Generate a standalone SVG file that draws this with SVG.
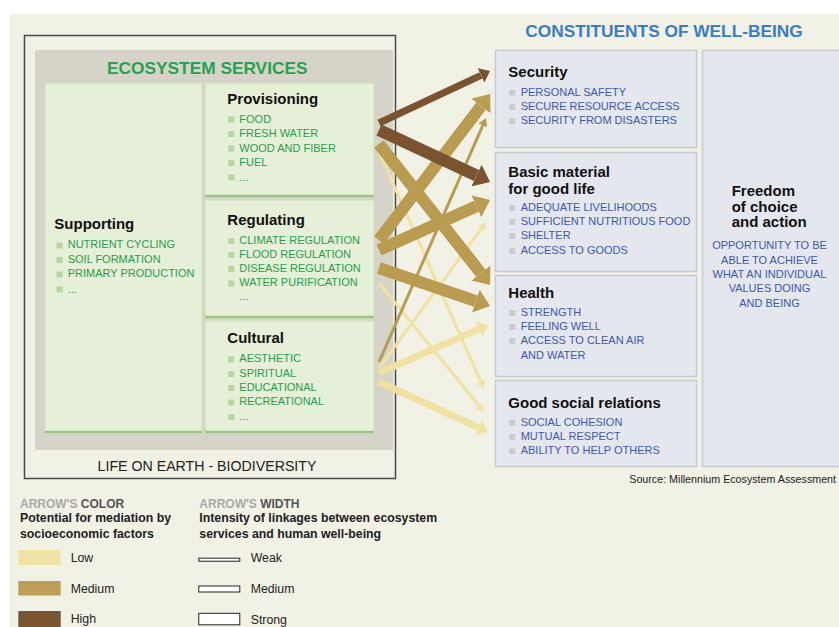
<svg xmlns="http://www.w3.org/2000/svg" width="839" height="627" viewBox="0 0 839 627">
<style>
text{font-family:"Liberation Sans",Arial,sans-serif}
.gbox{fill:#e6efd8;stroke:#cfe0bd;stroke-width:1}
.gbot{stroke:#9fc585;stroke-width:2.5}
.bbox{fill:#e4e7ee;stroke:#c5cad3;stroke-width:1.5}
.h{font-weight:bold;font-size:15px;fill:#111}
.gi{font-size:11px;fill:#2a9d4b}
.bi{font-size:11px;fill:#3f58a8}
.gb{fill:#b9d5a2}
.bb{fill:#c8cbd1}
.lg{font-size:12.3px;fill:#222}
.lgh{font-size:12.3px;font-weight:bold;fill:#222}
.wl{fill:#fff;stroke:#222;stroke-width:1}
</style>
<defs>
<marker id="hBrS" markerUnits="userSpaceOnUse" viewBox="0 -12 15 24" refX="0" refY="0" markerWidth="15" markerHeight="24" orient="auto"><path d="M0,-12 L15,0 L0,12 Z" fill="#7a5331"/></marker>
<marker id="hBrM" markerUnits="userSpaceOnUse" viewBox="0 -8 10 16" refX="0" refY="0" markerWidth="10" markerHeight="16" orient="auto"><path d="M0,-8 L10,0 L0,8 Z" fill="#7a5331"/></marker>
<marker id="hGoS" markerUnits="userSpaceOnUse" viewBox="0 -12 15 24" refX="0" refY="0" markerWidth="15" markerHeight="24" orient="auto"><path d="M0,-12 L15,0 L0,12 Z" fill="#b99b51"/></marker>
<marker id="hGoW" markerUnits="userSpaceOnUse" viewBox="0 -4.5 8 9" refX="0" refY="0" markerWidth="8" markerHeight="9" orient="auto"><path d="M0,-4.5 L8,0 L0,4.5 Z" fill="#b99b51"/></marker>
<marker id="hLoW" markerUnits="userSpaceOnUse" viewBox="0 -4.5 8 9" refX="0" refY="0" markerWidth="8" markerHeight="9" orient="auto"><path d="M0,-4.5 L8,0 L0,4.5 Z" fill="#efe2a2"/></marker>
<marker id="hLoM" markerUnits="userSpaceOnUse" viewBox="0 -8 10 16" refX="0" refY="0" markerWidth="10" markerHeight="16" orient="auto"><path d="M0,-8 L10,0 L0,8 Z" fill="#efe2a2"/></marker>
</defs>
<rect x="0" y="0" width="839" height="627" fill="#ffffff"/>
<rect x="10" y="14" width="829" height="613" fill="#f2f1e6"/>

<g id="life-on-earth">
<rect x="24.5" y="35.5" width="371" height="443" fill="none" stroke="#4a4a4a" stroke-width="1.5"/>
<rect x="35" y="50" width="358" height="400" fill="#d6d4c8"/>
<text x="207" y="470.7" font-size="14.2" fill="#222" text-anchor="middle">LIFE ON EARTH - BIODIVERSITY</text>
<text x="207.3" y="74.3" font-size="17.3" font-weight="bold" fill="#2aa14e" text-anchor="middle">ECOSYSTEM SERVICES</text>
</g>

<g id="supporting">
<rect class="gbox" x="45" y="83" width="157" height="350"/>
<line class="gbot" x1="45" y1="432" x2="202" y2="432"/>
<text class="h" x="54.3" y="229.3">Supporting</text>
<rect class="gb" x="56.5" y="242.5" width="6" height="6"/><text class="gi" x="67.7" y="248.3">NUTRIENT CYCLING</text>
<rect class="gb" x="56.5" y="257" width="6" height="6"/><text class="gi" x="67.7" y="262.7">SOIL FORMATION</text>
<rect class="gb" x="56.5" y="271.5" width="6" height="6"/><text class="gi" x="67.7" y="277.3">PRIMARY PRODUCTION</text>
<rect class="gb" x="56.5" y="286.5" width="6" height="6"/><text class="gi" x="67.7" y="292.7">...</text>
</g>

<g id="provisioning">
<rect class="gbox" x="205" y="83" width="169" height="114"/>
<line class="gbot" x1="205" y1="196" x2="374" y2="196"/>
<text class="h" x="227.3" y="104">Provisioning</text>
<rect class="gb" x="228.3" y="116.5" width="6" height="6"/><text class="gi" x="239.3" y="122.5">FOOD</text>
<rect class="gb" x="228.3" y="131" width="6" height="6"/><text class="gi" x="239.3" y="137">FRESH WATER</text>
<rect class="gb" x="228.3" y="145.5" width="6" height="6"/><text class="gi" x="239.3" y="151.5">WOOD AND FIBER</text>
<rect class="gb" x="228.3" y="160" width="6" height="6"/><text class="gi" x="239.3" y="166">FUEL</text>
<rect class="gb" x="228.3" y="174.5" width="6" height="6"/><text class="gi" x="239.3" y="180.5">...</text>
</g>

<g id="regulating">
<rect class="gbox" x="205" y="200" width="169" height="118"/>
<line class="gbot" x1="205" y1="317" x2="374" y2="317"/>
<text class="h" x="227.3" y="225">Regulating</text>
<rect class="gb" x="228.3" y="238" width="6" height="6"/><text class="gi" x="239.3" y="244">CLIMATE REGULATION</text>
<rect class="gb" x="228.3" y="252" width="6" height="6"/><text class="gi" x="239.3" y="257.7">FLOOD REGULATION</text>
<rect class="gb" x="228.3" y="266" width="6" height="6"/><text class="gi" x="239.3" y="271.7">DISEASE REGULATION</text>
<rect class="gb" x="228.3" y="280.5" width="6" height="6"/><text class="gi" x="239.3" y="286">WATER PURIFICATION</text>
<text class="gi" x="239.3" y="300">...</text>
</g>

<g id="cultural">
<rect class="gbox" x="205" y="321" width="169" height="112"/>
<line class="gbot" x1="205" y1="432" x2="374" y2="432"/>
<text class="h" x="227.3" y="343.3">Cultural</text>
<rect class="gb" x="228.3" y="356.5" width="6" height="6"/><text class="gi" x="239.3" y="362.3">AESTHETIC</text>
<rect class="gb" x="228.3" y="371" width="6" height="6"/><text class="gi" x="239.3" y="376.7">SPIRITUAL</text>
<rect class="gb" x="228.3" y="385" width="6" height="6"/><text class="gi" x="239.3" y="391">EDUCATIONAL</text>
<rect class="gb" x="228.3" y="399.5" width="6" height="6"/><text class="gi" x="239.3" y="405">RECREATIONAL</text>
<rect class="gb" x="228.3" y="414" width="6" height="6"/><text class="gi" x="239.3" y="420">...</text>
</g>

<g id="connectors" fill="none" stroke-linecap="butt">
<line x1="379" y1="152" x2="480.81" y2="381.66" stroke="#efe2a2" stroke-width="3" marker-end="url(#hLoW)"/>
<line x1="379" y1="283" x2="479.01" y2="405.75" stroke="#efe2a2" stroke-width="3" marker-end="url(#hLoW)"/>
<line x1="379" y1="368" x2="481.33" y2="228.5" stroke="#efe2a2" stroke-width="3" marker-end="url(#hLoW)"/>
<line x1="379" y1="373" x2="478.88" y2="329.09" stroke="#efe2a2" stroke-width="7" marker-end="url(#hLoM)"/>
<line x1="379" y1="382" x2="478.94" y2="427.77" stroke="#efe2a2" stroke-width="7" marker-end="url(#hLoM)"/>
<line x1="379" y1="362" x2="482.84" y2="125.35" stroke="#b99b51" stroke-width="3" marker-end="url(#hGoW)"/>
<line x1="379" y1="144" x2="480.82" y2="273.13" stroke="#b99b51" stroke-width="12" marker-end="url(#hGoS)"/>
<line x1="379" y1="240" x2="481.03" y2="106.02" stroke="#b99b51" stroke-width="12" marker-end="url(#hGoS)"/>
<line x1="379" y1="250" x2="476.36" y2="206.26" stroke="#b99b51" stroke-width="12" marker-end="url(#hGoS)"/>
<line x1="379" y1="268" x2="475.84" y2="301.06" stroke="#b99b51" stroke-width="12" marker-end="url(#hGoS)"/>
<line x1="379" y1="123" x2="480.98" y2="75.3" stroke="#7a5331" stroke-width="7" marker-end="url(#hBrM)"/>
<line x1="379" y1="130" x2="476.47" y2="175.55" stroke="#7a5331" stroke-width="12" marker-end="url(#hBrS)"/>
</g>

<g id="constituents-title">
<text x="664" y="36.7" font-size="17.3" font-weight="bold" fill="#3b7dc4" text-anchor="middle">CONSTITUENTS OF WELL-BEING</text>
</g>

<g id="security">
<rect class="bbox" x="495.5" y="50.5" width="201" height="97"/>
<text class="h" x="508.3" y="76.7">Security</text>
<rect class="bb" x="509.3" y="89.7" width="6" height="6"/><text class="bi" x="520.7" y="95.7">PERSONAL SAFETY</text>
<rect class="bb" x="509.3" y="104" width="6" height="6"/><text class="bi" x="520.7" y="110">SECURE RESOURCE ACCESS</text>
<rect class="bb" x="509.3" y="118.3" width="6" height="6"/><text class="bi" x="520.7" y="124.3">SECURITY FROM DISASTERS</text>
</g>

<g id="basic-material">
<rect class="bbox" x="495.5" y="152.5" width="201" height="119"/>
<text class="h" x="508.3" y="177.3">Basic material</text>
<text class="h" x="508.3" y="194">for good life</text>
<rect class="bb" x="509.3" y="205" width="6" height="6"/><text class="bi" x="520.7" y="211">ADEQUATE LIVELIHOODS</text>
<rect class="bb" x="509.3" y="219" width="6" height="6"/><text class="bi" x="520.7" y="225">SUFFICIENT NUTRITIOUS FOOD</text>
<rect class="bb" x="509.3" y="233" width="6" height="6"/><text class="bi" x="520.7" y="239">SHELTER</text>
<rect class="bb" x="509.3" y="248" width="6" height="6"/><text class="bi" x="520.7" y="254">ACCESS TO GOODS</text>
</g>

<g id="health">
<rect class="bbox" x="495.5" y="275.5" width="201" height="101"/>
<text class="h" x="508.3" y="298.3">Health</text>
<rect class="bb" x="509.3" y="310" width="6" height="6"/><text class="bi" x="520.7" y="316">STRENGTH</text>
<rect class="bb" x="509.3" y="324" width="6" height="6"/><text class="bi" x="520.7" y="330">FEELING WELL</text>
<rect class="bb" x="509.3" y="338" width="6" height="6"/><text class="bi" x="520.7" y="344">ACCESS TO CLEAN AIR</text>
<text class="bi" x="520.7" y="359">AND WATER</text>
</g>

<g id="social-relations">
<rect class="bbox" x="495.5" y="380.5" width="201" height="86"/>
<text class="h" x="508.3" y="407.7">Good social relations</text>
<rect class="bb" x="509.3" y="419.7" width="6" height="6"/><text class="bi" x="520.7" y="425.7">SOCIAL COHESION</text>
<rect class="bb" x="509.3" y="434" width="6" height="6"/><text class="bi" x="520.7" y="440">MUTUAL RESPECT</text>
<rect class="bb" x="509.3" y="448.3" width="6" height="6"/><text class="bi" x="520.7" y="454.3">ABILITY TO HELP OTHERS</text>
</g>

<g id="freedom">
<rect class="bbox" x="702.5" y="50.5" width="140" height="416"/>
<text class="h" x="731.7" y="195.7">Freedom</text>
<text class="h" x="731.7" y="211.7">of choice</text>
<text class="h" x="731.7" y="227.3">and action</text>
<text class="bi" x="769.5" y="249" text-anchor="middle">OPPORTUNITY TO BE</text>
<text class="bi" x="769.5" y="264" text-anchor="middle">ABLE TO ACHIEVE</text>
<text class="bi" x="769.5" y="277.7" text-anchor="middle">WHAT AN INDIVIDUAL</text>
<text class="bi" x="769.5" y="292.3" text-anchor="middle">VALUES DOING</text>
<text class="bi" x="769.5" y="306.7" text-anchor="middle">AND BEING</text>
</g>

<text x="629.3" y="482.7" font-size="10.7" fill="#222">Source: Millennium Ecosystem Assessment</text>

<g id="legend-color">
<text x="20" y="507.7" font-size="12" font-weight="bold"><tspan fill="#a9a9a9">ARROW'S </tspan><tspan fill="#555">COLOR</tspan></text>
<text class="lgh" x="20" y="522.3">Potential for mediation by</text>
<text class="lgh" x="20" y="537.7">socioeconomic factors</text>
<rect x="18.3" y="550" width="42.4" height="15" fill="#efe4a6"/>
<text class="lg" x="70.7" y="562.3">Low</text>
<rect x="18.3" y="581" width="42.4" height="14.5" fill="#bd9e57"/>
<text class="lg" x="70.7" y="593.3">Medium</text>
<rect x="18.3" y="611" width="42.4" height="16" fill="#7b5430"/>
<text class="lg" x="70.7" y="623.3">High</text>
</g>

<g id="legend-width">
<text x="199.3" y="507.7" font-size="12" font-weight="bold"><tspan fill="#a9a9a9">ARROW'S </tspan><tspan fill="#555">WIDTH</tspan></text>
<text class="lgh" x="199.3" y="522.3">Intensity of linkages between ecosystem</text>
<text class="lgh" x="199.3" y="537.7">services and human well-being</text>
<rect class="wl" x="198.8" y="558.2" width="41" height="3"/>
<text class="lg" x="250.7" y="562.3">Weak</text>
<rect class="wl" x="198.8" y="586" width="41" height="6"/>
<text class="lg" x="250.7" y="593.3">Medium</text>
<rect class="wl" x="198.8" y="613.3" width="41" height="11.5"/>
<text class="lg" x="250.7" y="623.7">Strong</text>
</g>
</svg>
